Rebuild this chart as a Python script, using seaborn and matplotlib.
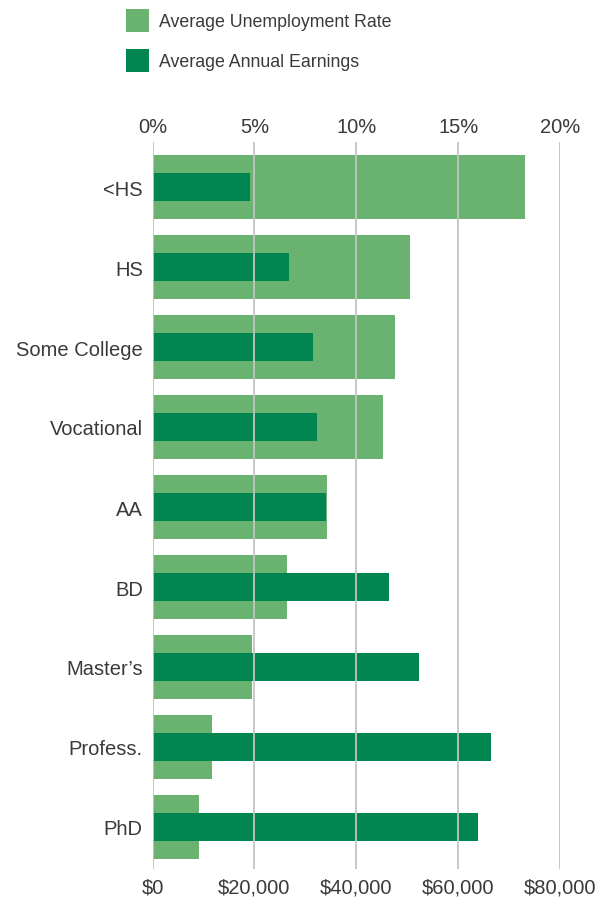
import matplotlib
matplotlib.use("Agg")
import matplotlib.pyplot as plt
import seaborn as sns

# niveaux d'éducation et valeurs
niveaux = ["<HS", "HS", "Some College", "Vocational", "AA", "BD",
           "Master’s", "Profess.", "PhD"]
chomage = [18.3, 12.65, 11.9, 11.3, 8.55, 6.6, 4.9, 2.9, 2.3]  # %
salaire = [19100, 26750, 31450, 32250, 34000, 46400, 52300, 66450, 63900]  # $

ticks_chomage = [0, 5, 10, 15, 20]
labels_chomage = ["0%", "5%", "10%", "15%", "20%"]
ticks_salaire = [0, 20000, 40000, 60000, 80000]
labels_salaire = ["$0", "$20,000", "$40,000", "$60,000", "$80,000"]

vert_clair = "#6ab26f"
vert_fonce = "#008450"
gris_texte = "#3a3a3a"
gris_grille = "#c4c4c4"

sns.set_style("white")
plt.rcParams["font.family"] = ["Liberation Sans", "DejaVu Sans"]

fig = plt.figure(figsize=(6.12, 9.04), dpi=100)
ax = fig.add_axes([152.5 / 612, 1 - 870 / 904, 407.5 / 612, 727 / 904])

# taux de chômage (barres claires, axe du haut)
sns.barplot(x=chomage, y=niveaux, orient="h", color=vert_clair, saturation=1,
            width=0.8, linewidth=0, ax=ax)
ax.set_xlim(0, 20)
ax.set_xticks(ticks_chomage)
ax.set_xticklabels(labels_chomage)

# salaires (barres foncées, axe du bas)
ax2 = ax.twiny()
sns.barplot(x=salaire, y=niveaux, orient="h", color=vert_fonce, saturation=1,
            width=0.34, linewidth=0, ax=ax2)
ax2.set_xlim(0, 80000)
ax2.set_xticks(ticks_salaire)
ax2.set_xticklabels(labels_salaire)

# twiny remet les ticks de ax en bas : on corrige
ax.xaxis.tick_top()
ax2.xaxis.tick_bottom()

for a in (ax, ax2):
    a.set_ylim(8.525, -0.5625)
    a.set_xlabel("")
    a.set_ylabel("")
    for s in a.spines.values():
        s.set_visible(False)
    a.tick_params(length=0, labelsize=14.5, labelcolor=gris_texte)

ax.tick_params(axis="x", pad=4)
ax2.tick_params(axis="x", pad=6)
ax.tick_params(axis="y", pad=7)
ax.grid(False)

# grille par-dessus les barres
ax2.set_axisbelow(False)
ax2.grid(axis="x", color=gris_grille, linewidth=1.3)
ax2.grid(axis="y", visible=False)

# légende
handles = [ax.containers[0], ax2.containers[0]]
fig.legend(handles, ["Average Unemployment Rate", "Average Annual Earnings"],
           loc="upper left", bbox_to_anchor=(110 / 612, 1 + 6 / 904),
           frameon=False, fontsize=12.8, labelcolor=gris_texte,
           handlelength=1.3, handleheight=1.6, handletextpad=0.55,
           labelspacing=0.95)

fig.savefig("out.png", dpi=100)
